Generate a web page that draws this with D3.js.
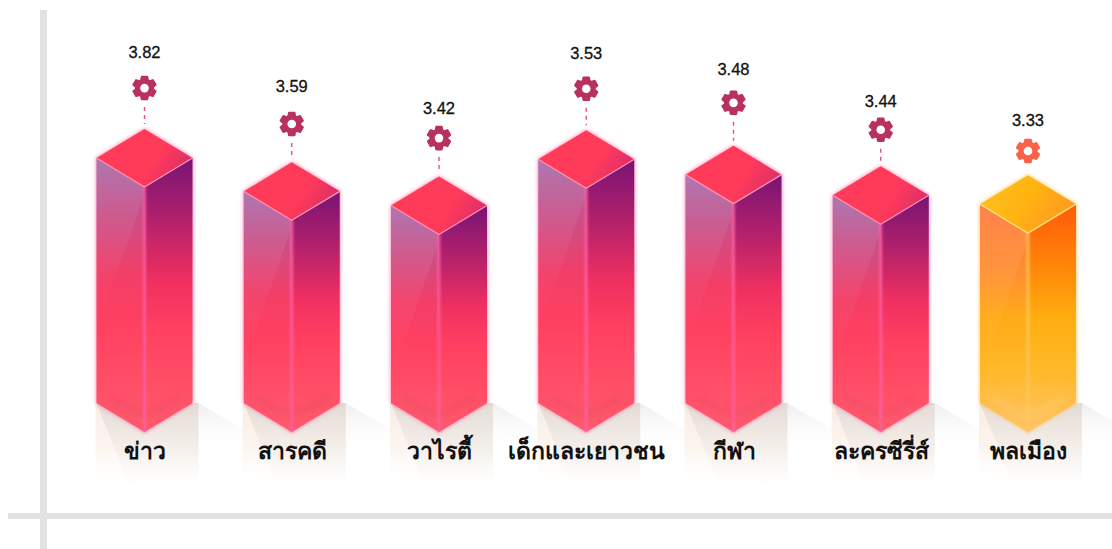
<!DOCTYPE html>
<html>
<head>
<meta charset="utf-8">
<script src="https://cdn.jsdelivr.net/npm/d3@7"></script>
<style>
  html, body { margin: 0; padding: 0; background: #fff; }
  svg { display: block; }
</style>
</head>
<body>
<div id="chart"></div>
<script>
var svgWidth = 1112;
var svgHeight = 549;

// Data
var categories = ["ข่าว", "สารคดี", "วาไรตี้", "เด็กและเยาวชน", "กีฬา", "ละครซีรี่ส์", "พลเมือง"];
var values = [3.82, 3.59, 3.42, 3.53, 3.48, 3.44, 3.33];
// The drawn columns are not proportional to the printed numbers (3.53 is nearly as tall as 3.82),
// so the levels seen in the picture are kept apart, in the same units as the first bar
var barLevels = [3.82, 3.30, 3.08, 3.80, 3.56, 3.24, 3.10];
var iconLevels = [4.91, 4.35, 4.13, 4.90, 4.68, 4.26, 3.93];
var labelLevels = [5.47, 4.94, 4.60, 5.46, 5.21, 4.71, 4.41];
var highlighted = ["พลเมือง"];

var baseY = 403;      // back corners of the column foot
var halfW = 48;       // half width of a column
var depth = 29;       // half height of the top diamond

var svg = d3.select("#chart")
  .append("svg")
  .attr("width", svgWidth)
  .attr("height", svgHeight);

var x = d3.scalePoint().domain(categories).range([144.5, 1028]);
var y = d3.scaleLinear().domain([0, 3.82]).range([baseY, 158]);

var defs = svg.append("defs");

function gradient(id, x1, y1, x2, y2, stops) {
  var g = defs.append("linearGradient").attr("id", id)
    .attr("x1", x1).attr("y1", y1).attr("x2", x2).attr("y2", y2);
  stops.forEach(function(s) {
    g.append("stop").attr("offset", s[0]).attr("stop-color", s[1]).attr("stop-opacity", s[2] === undefined ? 1 : s[2]);
  });
}

gradient("leftRed", 0, 0, 0, 1, [[0, "#a468a8"], [0.2, "#c85088"], [0.42, "#f23e68"], [0.6, "#ff4060"], [1, "#ff5a6e"]]);
gradient("rightRed", 0, 0, 0, 1, [[0, "#781474"], [0.2, "#ac1f6c"], [0.45, "#f03060"], [0.62, "#ff4060"], [1, "#ff5a6c"]]);
gradient("topRed", 0, 0, 1, 0.4, [[0, "#ff3c58"], [0.72, "#ff3a5a"], [1, "#e03068"]]);
gradient("leftGold", 0, 0, 0, 1, [[0, "#ff7436"], [0.3, "#ff8f30"], [0.5, "#ffab18"], [0.72, "#ffb828"], [1, "#ffc468"]]);
gradient("rightGold", 0, 0, 0, 1, [[0, "#ff5a08"], [0.25, "#ff8208"], [0.5, "#ffae10"], [0.72, "#ffb828"], [1, "#ffc468"]]);
gradient("topGold", 0, 0, 1, 0.4, [[0, "#ffc224"], [0.55, "#ffb410"], [1, "#ff9c20"]]);
gradient("sheen", 0, 0, 0, 1, [[0, "#ffffff", 0.1], [1, "#ffffff", 0]]);
gradient("floorBeige", 0, 0, 0, 1, [[0, "#f8ece2", 1], [0.55, "#fcf3ec", 0.8], [1, "#ffffff", 0]]);
gradient("floorGrey", 0, 0, 0, 1, [[0, "#d2cdca", 0.55], [1, "#e8e6e6", 0]]);
gradient("castGrey", 0, 0, 0, 1, [[0, "#ebebed", 0.85], [0.8, "#ffffff", 0]]);

var blur = defs.append("filter").attr("id", "glow")
  .attr("x", "-15%").attr("y", "-15%").attr("width", "130%").attr("height", "130%");
blur.append("feGaussianBlur").attr("stdDeviation", 2);

var softEdge = defs.append("filter").attr("id", "soft")
  .attr("filterUnits", "userSpaceOnUse").attr("x", 0).attr("y", 0).attr("width", svgWidth).attr("height", svgHeight);
softEdge.append("feGaussianBlur").attr("stdDeviation", 1.2);

var softFoot = defs.append("filter").attr("id", "softFoot")
  .attr("filterUnits", "userSpaceOnUse").attr("x", 0).attr("y", 0).attr("width", svgWidth).attr("height", svgHeight);
softFoot.append("feGaussianBlur").attr("stdDeviation", 3);

function pts(list) {
  return list.map(function(p) { return p.join(","); }).join(" ");
}

// Frame lines behind everything
svg.append("rect").attr("x", 40).attr("y", 10).attr("width", 7).attr("height", 539).attr("fill", "#e2e2e2");
svg.append("rect").attr("x", 8).attr("y", 513).attr("width", 1104).attr("height", 6).attr("fill", "#e2e2e2");

var bars = svg.selectAll(".column")
  .data(categories)
  .enter()
  .append("g")
  .attr("class", "column");

// Floor shadow under each column
bars.append("polygon")
  .attr("points", function(d) {
    var c = x(d);
    return pts([[c + halfW + 6, baseY], [c + halfW + 50, baseY + 26], [c + halfW + 50, baseY + 60], [c + halfW + 6, baseY + 60]]);
  })
  .attr("fill", "url(#castGrey)");

bars.append("rect")
  .attr("x", function(d) { return x(d) - halfW - 1; })
  .attr("y", baseY)
  .attr("width", 2 * halfW + 7)
  .attr("height", 84)
  .attr("fill", "url(#floorBeige)");

bars.append("polygon")
  .attr("points", function(d) {
    var c = x(d);
    return pts([[c - halfW, baseY], [c + halfW + 6, baseY], [c + halfW + 6, baseY + 84], [c - halfW + 34, baseY + 84]]);
  })
  .attr("fill", "url(#floorGrey)");

function kind(d) {
  return highlighted.indexOf(d) >= 0 ? "Gold" : "Red";
}

function outline(d, i) {
  var c = x(d), t = y(barLevels[i]);
  return [[c, t - depth], [c + halfW, t], [c + halfW, baseY], [c, baseY + depth], [c - halfW, baseY], [c - halfW, t]];
}

// Soft glow round the column
bars.append("polygon")
  .attr("points", function(d, i) { return pts(outline(d, i)); })
  .attr("fill", function(d) { return kind(d) === "Gold" ? "#ffc04a" : "#ff6fa8"; })
  .attr("filter", "url(#glow)");

bars.append("polygon")
  .attr("points", function(d, i) {
    var c = x(d), t = y(barLevels[i]);
    return pts([[c - halfW, t], [c, t + depth], [c, baseY + depth], [c - halfW, baseY]]);
  })
  .attr("fill", function(d) { return "url(#left" + kind(d) + ")"; });

bars.append("polygon")
  .attr("points", function(d, i) {
    var c = x(d), t = y(barLevels[i]);
    return pts([[c + halfW, t], [c, t + depth], [c, baseY + depth], [c + halfW, baseY]]);
  })
  .attr("fill", function(d) { return "url(#right" + kind(d) + ")"; });

// Diagonal sheen on the left face
bars.append("polygon")
  .attr("points", function(d, i) {
    var c = x(d), t = y(barLevels[i]);
    return pts([[c - halfW, t], [c, t + depth], [c - 2, t + depth + 12], [c - 24, t + 105], [c - halfW + 2, t + 165], [c - halfW, t + 165]]);
  })
  .attr("fill", "url(#sheen)");

// Darker band just above the foot
bars.append("polyline")
  .attr("points", function(d) {
    var c = x(d);
    return pts([[c - halfW + 12, baseY - 6], [c - 10, baseY + depth - 20], [c + 10, baseY + depth - 20], [c + halfW - 12, baseY - 6]]);
  })
  .attr("fill", "none")
  .attr("stroke", function(d) { return kind(d) === "Gold" ? "#ffd898" : "#d04060"; })
  .attr("stroke-width", 5)
  .attr("opacity", 0.28)
  .attr("filter", "url(#softFoot)");

bars.append("polygon")
  .attr("points", function(d, i) {
    var c = x(d), t = y(barLevels[i]);
    return pts([[c, t - depth], [c + halfW, t], [c, t + depth], [c - halfW, t]]);
  })
  .attr("fill", function(d) { return "url(#top" + kind(d) + ")"; });

// Lit edges
bars.append("line")
  .attr("x1", function(d) { return x(d); })
  .attr("x2", function(d) { return x(d); })
  .attr("y1", function(d, i) { return y(barLevels[i]) + depth; })
  .attr("y2", baseY + depth)
  .attr("stroke", function(d) { return kind(d) === "Gold" ? "#ffc860" : "#ff60a4"; })
  .attr("stroke-width", 3.5)
  .attr("opacity", 0.7)
  .attr("filter", "url(#soft)");

bars.append("polyline")
  .attr("points", function(d, i) {
    var c = x(d), t = y(barLevels[i]);
    return pts([[c - halfW, t], [c, t + depth], [c + halfW, t]]);
  })
  .attr("fill", "none")
  .attr("stroke", function(d) { return kind(d) === "Gold" ? "#ffe27a" : "#ff8fb4"; })
  .attr("stroke-width", 1.3);

// Dashed pin between column and icon
bars.append("line")
  .attr("x1", function(d) { return x(d); })
  .attr("x2", function(d) { return x(d); })
  .attr("y1", function(d, i) { return y(iconLevels[i]) + 19; })
  .attr("y2", function(d, i) { return y(barLevels[i]) - depth - 5; })
  .attr("stroke", function(d) { return kind(d) === "Gold" ? "#ff9a3c" : "#e8507a"; })
  .attr("stroke-width", 1.4)
  .attr("stroke-dasharray", "4 4");

// Gear icon
var gearPoints = d3.range(6).flatMap(function(k) {
  var a = k * Math.PI / 3;
  return [[a - 0.24, 11.6], [a + 0.24, 11.6], [a + 0.4, 8.6], [a + Math.PI / 3 - 0.4, 8.6]];
});
var gearPath = d3.lineRadial().curve(d3.curveLinearClosed)(gearPoints);

var gears = bars.append("g")
  .attr("transform", function(d, i) { return "translate(" + x(d) + "," + y(iconLevels[i]) + ")"; });

gears.append("path")
  .attr("d", gearPath)
  .attr("fill", function(d) { return kind(d) === "Gold" ? "#fb6249" : "#b8315f"; })
  .attr("stroke", function(d) { return kind(d) === "Gold" ? "#fb6249" : "#b8315f"; })
  .attr("stroke-width", 2)
  .attr("stroke-linejoin", "round");

gears.append("circle").attr("r", 4.3).attr("fill", "#fff");

// Value labels
bars.append("text")
  .attr("x", function(d) { return x(d); })
  .attr("y", function(d, i) { return y(labelLevels[i]) + 6; })
  .attr("text-anchor", "middle")
  .attr("font-family", "'Liberation Sans', Arial, sans-serif")
  .attr("font-size", "16.5px")
  .attr("fill", "#111")
  .attr("stroke", "#111")
  .attr("stroke-width", 0.3)
  .text(function(d, i) { return values[i]; });

// Category labels
var bottomAxis = d3.axisBottom(x).tickSize(0).tickPadding(0);
var axisGroup = svg.append("g")
  .attr("transform", "translate(0,443)")
  .call(bottomAxis);
axisGroup.select(".domain").remove();
axisGroup.selectAll("text")
  .attr("font-family", "'Noto Sans', 'Open Sans', sans-serif")
  .attr("font-size", "23px")
  .attr("font-weight", 700)
  .attr("fill", "#111");
</script>
</body>
</html>
